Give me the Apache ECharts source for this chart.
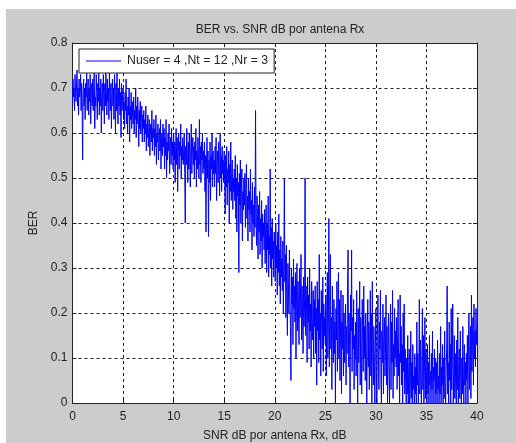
<!DOCTYPE html>
<html>
<head>
<meta charset="utf-8">
<script src="https://cdn.jsdelivr.net/npm/echarts@6/dist/echarts.min.js"></script>
<style>
  html, body { margin: 0; padding: 0; background: #fff; }
  #chart { position: absolute; left: 6px; top: 9px; width: 510px; height: 434px; background: #cccccc; }
</style>
</head>
<body>
<div id="chart"></div>
<script>
// tick labels
const xTicks = [0, 5, 10, 15, 20, 25, 30, 35, 40]
const yTicks = [0, 0.1, 0.2, 0.3, 0.4, 0.5, 0.6, 0.7, 0.8]

// SNR grid: 0 to 40 dB in 0.05 dB steps
const snrStart = 0
const snrStep = 0.05

// BER, one row per dB
const berValues = [
  0.66, 0.72, 0.68, 0.70, 0.65, 0.73, 0.69, 0.67, 0.71, 0.74, 0.66, 0.70, 0.64, 0.72, 0.68, 0.69, 0.73, 0.65, 0.71, 0.67,
  0.54, 0.69, 0.72, 0.66, 0.70, 0.63, 0.71, 0.68, 0.74, 0.65, 0.69, 0.72, 0.64, 0.70, 0.67, 0.73, 0.62, 0.69, 0.71, 0.66,
  0.72, 0.65, 0.70, 0.74, 0.61, 0.68, 0.66, 0.73, 0.69, 0.63, 0.71, 0.67, 0.74, 0.64, 0.70, 0.66, 0.72, 0.60, 0.68, 0.71,
  0.65, 0.73, 0.68, 0.62, 0.71, 0.66, 0.74, 0.69, 0.64, 0.72, 0.67, 0.70, 0.63, 0.74, 0.68, 0.65, 0.71, 0.61, 0.69, 0.72,
  0.66, 0.70, 0.63, 0.73, 0.68, 0.60, 0.71, 0.65, 0.74, 0.67, 0.62, 0.70, 0.66, 0.72, 0.64, 0.69, 0.59, 0.71, 0.65, 0.68,
  0.70, 0.63, 0.67, 0.61, 0.69, 0.65, 0.72, 0.62, 0.66, 0.60, 0.68, 0.64, 0.70, 0.58, 0.66, 0.63, 0.69, 0.61, 0.67, 0.64,
  0.62, 0.68, 0.60, 0.65, 0.63, 0.70, 0.59, 0.66, 0.62, 0.68, 0.64, 0.57, 0.65, 0.61, 0.67, 0.60, 0.63, 0.66, 0.58, 0.64,
  0.61, 0.65, 0.58, 0.63, 0.60, 0.66, 0.56, 0.62, 0.59, 0.64, 0.57, 0.61, 0.63, 0.55, 0.60, 0.62, 0.58, 0.65, 0.56, 0.61,
  0.59, 0.63, 0.55, 0.61, 0.57, 0.64, 0.53, 0.60, 0.58, 0.62, 0.54, 0.59, 0.61, 0.56, 0.63, 0.52, 0.58, 0.60, 0.55, 0.62,
  0.57, 0.61, 0.52, 0.59, 0.55, 0.63, 0.50, 0.58, 0.54, 0.60, 0.56, 0.62, 0.51, 0.57, 0.59, 0.53, 0.61, 0.55, 0.58, 0.52,
  0.60, 0.54, 0.58, 0.49, 0.57, 0.61, 0.53, 0.59, 0.47, 0.56, 0.60, 0.52, 0.58, 0.55, 0.62, 0.50, 0.57, 0.54, 0.59, 0.53,
  0.56, 0.60, 0.51, 0.40, 0.57, 0.53, 0.61, 0.55, 0.49, 0.58, 0.52, 0.60, 0.54, 0.48, 0.57, 0.62, 0.51, 0.56, 0.59, 0.53,
  0.57, 0.50, 0.58, 0.54, 0.61, 0.48, 0.56, 0.52, 0.59, 0.55, 0.50, 0.63, 0.53, 0.57, 0.49, 0.58, 0.54, 0.60, 0.51, 0.56,
  0.52, 0.58, 0.47, 0.55, 0.38, 0.53, 0.59, 0.50, 0.56, 0.37, 0.54, 0.49, 0.58, 0.45, 0.55, 0.52, 0.60, 0.48, 0.56, 0.51,
  0.54, 0.48, 0.57, 0.51, 0.59, 0.45, 0.53, 0.56, 0.49, 0.58, 0.52, 0.46, 0.60, 0.50, 0.55, 0.47, 0.57, 0.51, 0.54, 0.49,
  0.56, 0.50, 0.42, 0.55, 0.48, 0.57, 0.44, 0.52, 0.49, 0.56, 0.40, 0.53, 0.47, 0.58, 0.45, 0.51, 0.54, 0.43, 0.50, 0.47,
  0.52, 0.45, 0.55, 0.41, 0.50, 0.38, 0.53, 0.46, 0.49, 0.29, 0.51, 0.44, 0.54, 0.40, 0.48, 0.52, 0.36, 0.47, 0.43, 0.50,
  0.44, 0.51, 0.39, 0.48, 0.53, 0.41, 0.46, 0.36, 0.50, 0.43, 0.47, 0.38, 0.52, 0.42, 0.45, 0.34, 0.49, 0.40, 0.44, 0.37,
  0.48, 0.39, 0.65, 0.42, 0.35, 0.46, 0.40, 0.32, 0.44, 0.38, 0.47, 0.33, 0.41, 0.36, 0.45, 0.30, 0.42, 0.37, 0.40, 0.34,
  0.43, 0.31, 0.38, 0.44, 0.29, 0.40, 0.34, 0.46, 0.28, 0.37, 0.33, 0.52, 0.30, 0.39, 0.26, 0.41, 0.32, 0.36, 0.28, 0.38,
  0.33, 0.27, 0.40, 0.30, 0.35, 0.24, 0.38, 0.29, 0.42, 0.26, 0.34, 0.22, 0.37, 0.28, 0.32, 0.25, 0.36, 0.20, 0.31, 0.50,
  0.27, 0.33, 0.19, 0.35, 0.23, 0.15, 0.31, 0.26, 0.20, 0.34, 0.24, 0.17, 0.05, 0.30, 0.22, 0.28, 0.13, 0.32, 0.21, 0.26,
  0.18, 0.29, 0.10, 0.25, 0.31, 0.16, 0.27, 0.21, 0.13, 0.30, 0.19, 0.24, 0.33, 0.14, 0.26, 0.20, 0.11, 0.28, 0.17, 0.23,
  0.50, 0.15, 0.26, 0.21, 0.09, 0.28, 0.18, 0.24, 0.12, 0.30, 0.16, 0.22, 0.08, 0.27, 0.19, 0.14, 0.25, 0.10, 0.23, 0.17,
  0.26, 0.11, 0.21, 0.04, 0.27, 0.16, 0.23, 0.09, 0.33, 0.14, 0.20, 0.06, 0.25, 0.18, 0.12, 0.28, 0.07, 0.22, 0.15, 0.19,
  0.13, 0.24, 0.06, 0.20, 0.29, 0.10, 0.17, 0.41, 0.08, 0.22, 0.33, 0.12, 0.19, 0.03, 0.26, 0.15, 0.09, 0.23, 0.11, 0.18,
  0.00, 0.21, 0.14, 0.27, 0.07, 0.19, 0.29, 0.10, 0.23, 0.05, 0.16, 0.25, 0.02, 0.18, 0.12, 0.24, 0.06, 0.20, 0.09, 0.15,
  0.22, 0.04, 0.17, 0.11, 0.26, 0.34, 0.08, 0.20, 0.13, 0.00, 0.24, 0.16, 0.34, 0.07, 0.19, 0.12, 0.23, 0.03, 0.15, 0.10,
  0.18, 0.06, 0.25, 0.13, 0.00, 0.21, 0.09, 0.16, 0.27, 0.04, 0.19, 0.11, 0.02, 0.23, 0.14, 0.07, 0.26, 0.10, 0.17, 0.05,
  0.20, 0.12, 0.00, 0.16, 0.23, 0.08, 0.18, 0.03, 0.14, 0.25, 0.06, 0.20, 0.00, 0.27, 0.11, 0.04, 0.17, 0.09, 0.00, 0.13,
  0.21, 0.07, 0.00, 0.15, 0.24, 0.10, 0.03, 0.18, 0.12, 0.25, 0.05, 0.00, 0.16, 0.09, 0.22, 0.02, 0.14, 0.19, 0.06, 0.11,
  0.24, 0.04, 0.17, 0.00, 0.12, 0.20, 0.07, 0.00, 0.15, 0.22, 0.03, 0.18, 0.09, 0.25, 0.01, 0.13, 0.06, 0.21, 0.10, 0.16,
  0.08, 0.19, 0.03, 0.14, 0.23, 0.06, 0.11, 0.00, 0.24, 0.09, 0.17, 0.04, 0.13, 0.00, 0.20, 0.07, 0.22, 0.02, 0.12, 0.05,
  0.00, 0.10, 0.02, 0.15, 0.00, 0.07, 0.12, 0.00, 0.04, 0.16, 0.01, 0.09, 0.00, 0.13, 0.03, 0.06, 0.00, 0.11, 0.02, 0.08,
  0.00, 0.18, 0.04, 0.11, 0.00, 0.07, 0.23, 0.02, 0.14, 0.05, 0.00, 0.10, 0.21, 0.03, 0.15, 0.00, 0.08, 0.19, 0.01, 0.12,
  0.06, 0.00, 0.13, 0.02, 0.09, 0.00, 0.15, 0.04, 0.07, 0.00, 0.11, 0.03, 0.16, 0.00, 0.08, 0.05, 0.12, 0.00, 0.10, 0.02,
  0.09, 0.00, 0.14, 0.03, 0.06, 0.00, 0.11, 0.02, 0.17, 0.00, 0.08, 0.04, 0.13, 0.00, 0.10, 0.01, 0.16, 0.05, 0.00, 0.07,
  0.12, 0.26, 0.02, 0.09, 0.00, 0.18, 0.05, 0.13, 0.00, 0.21, 0.03, 0.10, 0.22, 0.00, 0.07, 0.15, 0.01, 0.11, 0.04, 0.00,
  0.14, 0.03, 0.19, 0.00, 0.08, 0.12, 0.01, 0.16, 0.05, 0.00, 0.10, 0.02, 0.17, 0.06, 0.00, 0.13, 0.04, 0.09, 0.00, 0.11,
  0.05, 0.15, 0.00, 0.12, 0.20, 0.03, 0.09, 0.17, 0.01, 0.24, 0.07, 0.14, 0.19, 0.04, 0.22, 0.10, 0.16, 0.08, 0.21, 0.13,
  0.17
]

const seriesName = 'Nuser = 4 ,Nt = 12 ,Nr = 3'

const chart = echarts.init(document.getElementById('chart'))
const points = berValues.map((v, i) => [+(snrStart + i * snrStep).toFixed(2), v])

const font = 'Arial, "Liberation Sans", sans-serif'
const textColor = '#222'

const option = {
  animation: false,
  backgroundColor: '#cccccc',
  title: {
    text: 'BER vs. SNR dB por antena Rx',
    left: 269,
    textAlign: 'center',
    top: 10,
    textStyle: { fontFamily: font, fontSize: 12, fontWeight: 'normal', color: textColor }
  },
  legend: {
    data: [seriesName],
    left: 73,
    top: 40,
    icon: 'rect',
    backgroundColor: '#fff',
    borderColor: '#222',
    borderWidth: 1,
    borderRadius: 0,
    padding: [6, 6, 6, 7],
    itemWidth: 35,
    itemHeight: 1,
    itemGap: 0,
    textStyle: { fontFamily: font, fontSize: 12.3, color: textColor, padding: [0, 0, 0, 1] }
  },
  grid: {
    left: 66.5, right: 39, top: 34, bottom: 40,
    containLabel: false, outerBoundsMode: 'none',
    show: true, backgroundColor: '#fff', borderWidth: 0
  },
  xAxis: [
    {
      type: 'value',
      min: xTicks[0],
      max: xTicks[xTicks.length - 1],
      interval: 5,
      name: 'SNR dB por antena Rx, dB',
      nameLocation: 'middle',
      nameGap: 27,
      nameTextStyle: { fontFamily: font, fontSize: 12, color: textColor },
      axisLine: { lineStyle: { color: '#222', width: 1 } },
      axisTick: { inside: true, length: 4, lineStyle: { color: '#222' } },
      axisLabel: { margin: 8, fontFamily: font, fontSize: 12, color: textColor },
      splitLine: { show: true, lineStyle: { color: '#222', type: [3, 3], width: 1 } }
    },
    {
      type: 'value',
      position: 'top',
      min: xTicks[0],
      max: xTicks[xTicks.length - 1],
      interval: 5,
      axisLine: { show: true, onZero: false, lineStyle: { color: '#222', width: 1 } },
      axisTick: { show: true, inside: true, length: 4, lineStyle: { color: '#222' } },
      axisLabel: { show: false },
      splitLine: { show: false }
    }
  ],
  yAxis: [
    {
      type: 'value',
      min: yTicks[0],
      max: yTicks[yTicks.length - 1],
      interval: 0.1,
      name: 'BER',
      nameLocation: 'middle',
      nameGap: 26,
      nameTextStyle: { fontFamily: font, fontSize: 12, color: textColor },
      axisLine: { show: true, lineStyle: { color: '#222', width: 1 } },
      axisTick: { show: true, inside: true, length: 4, lineStyle: { color: '#222' } },
      axisLabel: { margin: 5, fontFamily: font, fontSize: 12, color: textColor },
      splitLine: { show: true, lineStyle: { color: '#222', type: [3, 3], width: 1 } }
    },
    {
      type: 'value',
      position: 'right',
      min: yTicks[0],
      max: yTicks[yTicks.length - 1],
      interval: 0.1,
      axisLine: { show: true, onZero: false, lineStyle: { color: '#222', width: 1 } },
      axisTick: { show: true, inside: true, length: 4, lineStyle: { color: '#222' } },
      axisLabel: { show: false },
      splitLine: { show: false }
    }
  ],
  series: [
    {
      name: seriesName,
      type: 'line',
      data: points,
      showSymbol: false,
      symbol: 'none',
      lineStyle: { color: '#0000ff', width: 1 },
      itemStyle: { color: '#0000ff' },
      z: 1
    }
  ]
}

chart.setOption(option)
</script>
</body>
</html>
